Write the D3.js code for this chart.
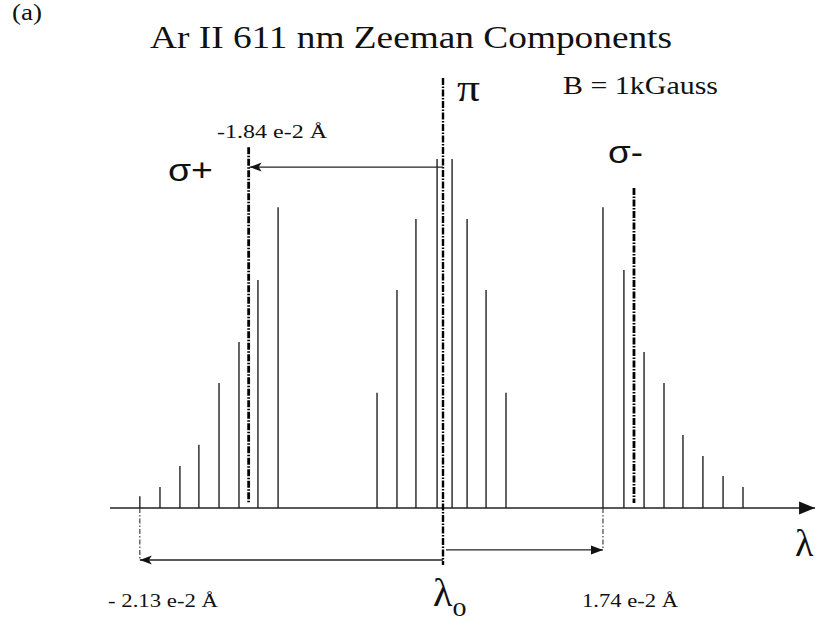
<!DOCTYPE html>
<html>
<head>
<meta charset="utf-8">
<script src="https://cdn.jsdelivr.net/npm/d3@7"></script>
<style>
  html, body { margin: 0; padding: 0; background: #fff; }
  svg { display: block; }
</style>
</head>
<body>
<svg id="chart" width="817" height="622"></svg>
<script>
// ---- Data (schematic offsets from lambda0, in component-spacing units; relative intensity 0-100) ----
const sigmaPlusOffsets  = [-15.35, -14.33, -13.32, -12.36, -11.34, -10.33, -9.37, -8.35];
const sigmaPlusValues   = [3.4, 6.0, 12.0, 18.1, 35.8, 47.6, 65.3, 86.2];
const piOffsets         = [-3.34, -2.33, -1.37, -0.30, 0.46, 1.22, 2.18, 3.19];
const piValues          = [33.0, 62.5, 82.8, 100, 100, 82.8, 62.5, 33.0];
const sigmaMinusOffsets = [8.10, 9.16, 10.18, 11.19, 12.15, 13.16, 14.18, 15.19];
const sigmaMinusValues  = [86.2, 68.2, 44.7, 35.8, 20.9, 14.9, 9.2, 6.0];

// component centres and shift markers
const centreNames   = ["σ+", "π", "σ-"];
const centreOffsets = [-9.84, 0, 9.67];
const centreTops    = [103.4, 123.2, 91.7];
const centreBottoms = [1.4, -16.3, 1.4];

const shiftLabels   = ["-1.84 e-2 Å", "- 2.13 e-2 Å", "1.74 e-2 Å"];
const shiftOffsets  = [-9.84, -15.35, 8.10];

const titleText = "Ar II 611 nm Zeeman Components";
const fieldText = "B = 1kGauss";
const panelText = "(a)";

// ---- Scales ----
const x = d3.scaleLinear().domain([-17, 19]).range([107.25, 818.25]);
const y = d3.scaleLinear().domain([0, 100]).range([508, 159]);

const svg = d3.select("#chart");
const serif = "Liberation Serif, Times New Roman, serif";
const sans = "Liberation Sans, Arial, sans-serif";

// markers
const defs = svg.append("defs");
defs.append("marker").attr("id", "stealth")
  .attr("viewBox", "0 -5 12 10").attr("refX", 12).attr("refY", 0)
  .attr("markerUnits", "userSpaceOnUse").attr("markerWidth", 13).attr("markerHeight", 10)
  .attr("orient", "auto")
  .append("path").attr("d", "M0,-4.5 L12,0 L0,4.5 L3,0 Z").attr("fill", "#111");
defs.append("marker").attr("id", "tri")
  .attr("viewBox", "0 -5 12 10").attr("refX", 12).attr("refY", 0)
  .attr("markerUnits", "userSpaceOnUse").attr("markerWidth", 13).attr("markerHeight", 10)
  .attr("orient", "auto")
  .append("path").attr("d", "M0,-4.5 L12,0 L0,4.5 Z").attr("fill", "#111");
defs.append("marker").attr("id", "axisTri")
  .attr("viewBox", "0 -7 16 14").attr("refX", 16).attr("refY", 0)
  .attr("markerUnits", "userSpaceOnUse").attr("markerWidth", 16).attr("markerHeight", 14)
  .attr("orient", "auto")
  .append("path").attr("d", "M0,-6.5 L16,0 L0,6.5 Z").attr("fill", "#111");

// ---- Axis ----
svg.append("line")
  .attr("x1", x(-16.86)).attr("x2", x(18.84))
  .attr("y1", y(0)).attr("y2", y(0))
  .attr("stroke", "#222").attr("stroke-width", 1.5)
  .attr("marker-end", "url(#axisTri)");

// ---- Component lines ----
const comps = [];
sigmaPlusOffsets.forEach((o, i) => comps.push({o, v: sigmaPlusValues[i]}));
piOffsets.forEach((o, i) => comps.push({o, v: piValues[i]}));
sigmaMinusOffsets.forEach((o, i) => comps.push({o, v: sigmaMinusValues[i]}));

svg.append("g").selectAll("line").data(comps).join("line")
  .attr("x1", d => x(d.o)).attr("x2", d => x(d.o))
  .attr("y1", y(0)).attr("y2", d => y(d.v))
  .attr("stroke", "#222").attr("stroke-width", 1.4);

// ---- Centre dash-dot lines ----
svg.append("g").selectAll("line").data(centreOffsets).join("line")
  .attr("x1", d => x(d)).attr("x2", d => x(d))
  .attr("y1", (d, i) => y(centreTops[i])).attr("y2", (d, i) => y(centreBottoms[i]))
  .attr("stroke", "#000").attr("stroke-width", (d, i) => i === 1 ? 2.4 : 2.8)
  .attr("stroke-dasharray", "7,1.5,1.5,1.5");

// ---- Shift markers below axis ----
svg.append("line")
  .attr("x1", x(shiftOffsets[1])).attr("x2", x(shiftOffsets[1]))
  .attr("y1", y(0)).attr("y2", y(-14.9))
  .attr("stroke", "#333").attr("stroke-width", 1.1).attr("stroke-dasharray", "5,2,1.5,2");
svg.append("line")
  .attr("x1", x(shiftOffsets[2])).attr("x2", x(shiftOffsets[2]))
  .attr("y1", y(0)).attr("y2", y(-12.0))
  .attr("stroke", "#333").attr("stroke-width", 1.1).attr("stroke-dasharray", "5,2,1.5,2");

// ---- Arrows ----
svg.append("line")
  .attr("x1", x(0)).attr("x2", x(shiftOffsets[0]) + 1)
  .attr("y1", y(97.7)).attr("y2", y(97.7))
  .attr("stroke", "#222").attr("stroke-width", 1.3)
  .attr("marker-end", "url(#stealth)");
svg.append("line")
  .attr("x1", x(0)).attr("x2", x(shiftOffsets[1]))
  .attr("y1", y(-14.9)).attr("y2", y(-14.9))
  .attr("stroke", "#222").attr("stroke-width", 1.3)
  .attr("marker-end", "url(#stealth)");
svg.append("line")
  .attr("x1", x(0) + 3).attr("x2", x(shiftOffsets[2]))
  .attr("y1", y(-12.0)).attr("y2", y(-12.0))
  .attr("stroke", "#222").attr("stroke-width", 1.3)
  .attr("marker-end", "url(#tri)");

// ---- Text ----
svg.append("text").text(panelText)
  .attr("x", 12).attr("y", 20)
  .attr("textLength", 30).attr("lengthAdjust", "spacingAndGlyphs")
  .attr("font-family", serif).attr("font-size", 23).attr("fill", "#111");

svg.append("text").text(titleText)
  .attr("x", 150).attr("y", 48)
  .attr("textLength", 522).attr("lengthAdjust", "spacingAndGlyphs")
  .attr("font-family", serif).attr("font-size", 31).attr("fill", "#111");

svg.append("text").text(fieldText)
  .attr("x", 563).attr("y", 94)
  .attr("textLength", 155).attr("lengthAdjust", "spacingAndGlyphs")
  .attr("font-family", serif).attr("font-size", 25).attr("fill", "#111");

svg.append("text").text(centreNames[1])
  .attr("x", x(0) + 14).attr("y", 101)
  .attr("textLength", 23).attr("lengthAdjust", "spacingAndGlyphs")
  .attr("font-family", serif).attr("font-size", 38).attr("fill", "#111");

svg.append("text").text(centreNames[0])
  .attr("x", 168).attr("y", 181)
  .attr("textLength", 45).attr("lengthAdjust", "spacingAndGlyphs")
  .attr("font-family", sans).attr("font-size", 31).attr("fill", "#111");

svg.append("text").text(centreNames[2])
  .attr("x", 608).attr("y", 163)
  .attr("textLength", 35).attr("lengthAdjust", "spacingAndGlyphs")
  .attr("font-family", sans).attr("font-size", 31).attr("fill", "#111");

svg.append("text").text(shiftLabels[0])
  .attr("x", 217).attr("y", 138)
  .attr("textLength", 110).attr("lengthAdjust", "spacingAndGlyphs")
  .attr("font-family", serif).attr("font-size", 18).attr("fill", "#111");

svg.append("text").text(shiftLabels[1])
  .attr("x", 108).attr("y", 607)
  .attr("textLength", 110).attr("lengthAdjust", "spacingAndGlyphs")
  .attr("font-family", serif).attr("font-size", 19).attr("fill", "#111");

svg.append("text").text(shiftLabels[2])
  .attr("x", 582).attr("y", 607)
  .attr("textLength", 96).attr("lengthAdjust", "spacingAndGlyphs")
  .attr("font-family", serif).attr("font-size", 19).attr("fill", "#111");

// axis label lambda
svg.append("text").text("λ")
  .attr("x", 795).attr("y", 556)
  .attr("font-family", serif).attr("font-size", 38).attr("fill", "#111");

// lambda_0 label
const l0 = svg.append("text")
  .attr("x", 433).attr("y", 606)
  .attr("font-family", serif).attr("font-size", 40).attr("fill", "#111");
l0.append("tspan").text("λ");
l0.append("tspan").text("o").attr("font-size", 28).attr("dy", 10);
</script>
</body>
</html>
